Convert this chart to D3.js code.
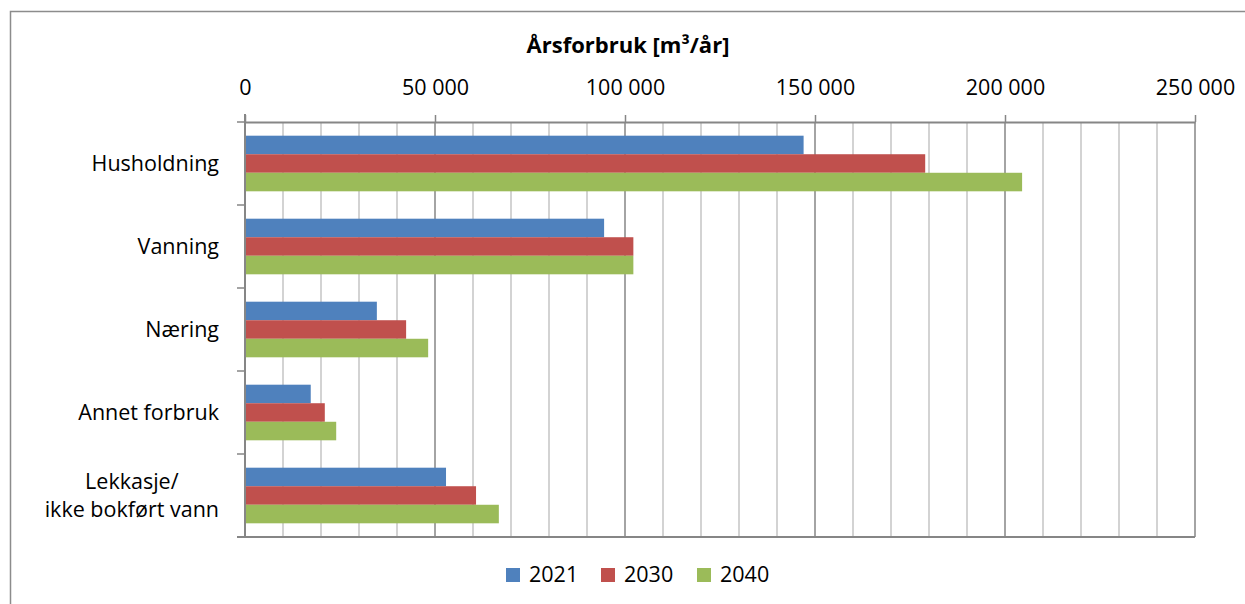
<!DOCTYPE html>
<html>
<head>
<meta charset="utf-8">
<script src="https://cdn.jsdelivr.net/npm/d3@7"></script>
<style>
  body { margin: 0; background: #fff; }
  text { font-family: "Open Sans", Lato, sans-serif; fill: #000; }
</style>
</head>
<body>
<div id="chart"></div>
<script>
// data
const categories = ['Husholdning', 'Vanning', 'Næring', 'Annet forbruk', 'Lekkasje/\nikke bokført vann'];
const years = ['2021', '2030', '2040'];
const values2021 = [147000, 94500, 34700, 17300, 52900];
const values2030 = [179000, 102200, 42400, 21000, 60800];
const values2040 = [204500, 102200, 48200, 24000, 66800];
const tickValues = [0, 50000, 100000, 150000, 200000, 250000];
const colors = ['#4F81BD', '#C0504D', '#9BBB59'];

const series = [values2021, values2030, values2040];

const width = 1245, height = 604;
const plotLeft = 245, plotRight = 1195, plotTop = 122, plotBottom = 537;
const fontSize = '21.5px';

var svg = d3.select('#chart').append('svg')
  .attr('width', width)
  .attr('height', height);

// outer frame (cut off at the right and bottom)
svg.append('rect')
  .attr('x', 10.5).attr('y', 11.5)
  .attr('width', 1400).attr('height', 800)
  .attr('fill', 'none')
  .attr('stroke', '#8c8c8c')
  .attr('stroke-width', 1.5);

var x = d3.scaleLinear().domain([0, 250000]).range([plotLeft, plotRight]);
var y = d3.scaleBand().domain(categories).range([plotTop, plotBottom])
  .paddingInner(0.33).paddingOuter(0.165);
var yInner = d3.scaleBand().domain(years).range([0, y.bandwidth()]);

var fmt = d3.formatLocale({decimal: ',', thousands: '\u00a0', grouping: [3], currency: ['', '']}).format(',d');

// gridlines: minor every 10 000, major every 50 000
var minor = d3.range(10000, 250000, 10000).filter(d => d % 50000 !== 0);
svg.append('g').selectAll('line')
  .data(minor)
  .enter().append('line')
  .attr('x1', d => x(d)).attr('x2', d => x(d))
  .attr('y1', plotTop).attr('y2', plotBottom)
  .attr('stroke', '#c4c4c4').attr('stroke-width', 1.5);

svg.append('g').selectAll('line')
  .data(tickValues.slice(1))
  .enter().append('line')
  .attr('x1', d => x(d)).attr('x2', d => x(d))
  .attr('y1', plotTop).attr('y2', plotBottom)
  .attr('stroke', '#868686').attr('stroke-width', 1.5);

// bars
var groups = svg.append('g').selectAll('g')
  .data(categories)
  .enter().append('g')
  .attr('transform', d => 'translate(0,' + y(d) + ')');

groups.selectAll('rect')
  .data((d, i) => years.map((yr, j) => ({year: yr, value: series[j][i], color: colors[j]})))
  .enter().append('rect')
  .attr('x', x(0))
  .attr('y', d => yInner(d.year))
  .attr('width', d => x(d.value) - x(0))
  .attr('height', yInner.bandwidth())
  .attr('fill', d => d.color);

// bottom border of plot area
svg.append('line')
  .attr('x1', plotLeft - 8).attr('x2', plotRight)
  .attr('y1', plotBottom).attr('y2', plotBottom)
  .attr('stroke', '#868686').attr('stroke-width', 2);

// top value axis
var xAxis = svg.append('g')
  .attr('transform', 'translate(0,' + plotTop + ')')
  .call(d3.axisTop(x).tickValues(tickValues).tickSize(7).tickSizeOuter(0).tickFormat(fmt));
xAxis.select('.domain').attr('stroke', '#868686').attr('stroke-width', 2);
xAxis.selectAll('.tick line').attr('stroke', '#868686').attr('stroke-width', 1.5);
xAxis.selectAll('.tick text')
  .attr('y', -27)
  .style('font-size', fontSize);

// left category axis
svg.append('line')
  .attr('x1', plotLeft).attr('x2', plotLeft)
  .attr('y1', plotTop - 8).attr('y2', plotBottom)
  .attr('stroke', '#868686').attr('stroke-width', 2);

var bounds = categories.map(c => y(c) - y.step() * y.paddingInner() / 2);
bounds[0] = plotTop;
bounds.push(plotBottom);
svg.append('g').selectAll('line')
  .data(bounds)
  .enter().append('line')
  .attr('x1', plotLeft - 8).attr('x2', plotLeft)
  .attr('y1', d => d).attr('y2', d => d)
  .attr('stroke', '#868686').attr('stroke-width', 1.5);

var labels = svg.append('g').selectAll('text')
  .data(categories)
  .enter().append('text')
  .attr('text-anchor', 'end')
  .style('font-size', fontSize)
  .attr('transform', d => 'translate(219,' + (y(d) + y.bandwidth() / 2) + ')');

labels.each(function(d) {
  var lines = d.split('\n');
  var t = d3.select(this);
  if (lines.length === 1) {
    t.append('tspan').attr('x', 0).attr('dy', '0.35em').text(d);
  } else {
    // two centred lines, right edge at the axis gap
    t.attr('text-anchor', 'middle');
    lines.forEach((l, i) => {
      t.append('tspan').attr('x', 0).attr('y', (i - (lines.length - 1) / 2) * 28).attr('dy', '0.35em').text(l);
    });
    var w = this.getBBox().width;
    t.attr('transform', 'translate(' + (219 - w / 2) + ',' + (y(d) + y.bandwidth() / 2) + ')');
  }
});

// title
svg.append('text')
  .attr('x', 628).attr('y', 53)
  .attr('text-anchor', 'middle')
  .style('font-size', '22px')
  .style('font-weight', 'bold')
  .text('Årsforbruk [m³/år]');

// legend
var legend = svg.append('g').attr('transform', 'translate(506,568)');
var legendX = [0, 95, 191];
years.forEach((yr, i) => {
  var g = legend.append('g').attr('transform', 'translate(' + legendX[i] + ',0)');
  g.append('rect').attr('width', 14).attr('height', 14).attr('fill', colors[i]);
  g.append('text').attr('x', 23).attr('y', 14).style('font-size', fontSize).text(yr);
});
</script>
</body>
</html>
